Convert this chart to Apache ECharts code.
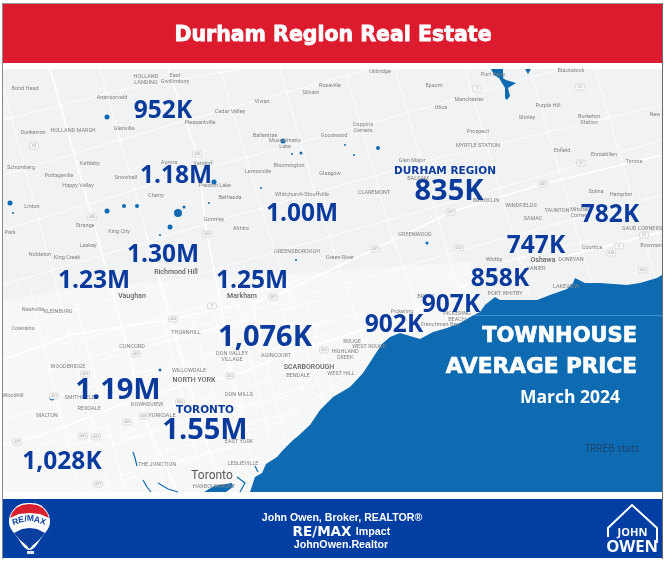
<!DOCTYPE html>
<html>
<head>
<meta charset="utf-8">
<title>Durham Region Real Estate</title>
<script src="https://cdn.jsdelivr.net/npm/echarts@6/dist/echarts.min.js"></script>
<style>
html, body { margin: 0; padding: 0; background: #fff; }
#chart { width: 666px; height: 562px; }
</style>
</head>
<body>
<div id="chart"></div>
<script>
// average townhouse price per area, placed on the map
var priceLabels = ['952K', '1.18M', '1.00M', '1.30M', '1.23M', '1.25M', '1,076K', '1.19M', '1.55M', '1,028K', '835K', '782K', '747K', '858K', '907K', '902K'];
var priceX = [163, 176, 302, 163, 94, 252, 265, 118, 205, 62, 449, 610, 536, 500, 451, 394];
var priceY = [111, 176, 214, 255, 281, 281, 338, 391, 431, 462, 192, 215, 246, 279, 305, 325];
var bigPrices = ['1,076K', '1.19M', '1.55M', '835K'];

var regionLabels = ['TORONTO', 'DURHAM REGION'];
var regionX = [205, 445];
var regionY = [410, 171];

// place names on the base map
var towns = [
    ['Bond Head', 25, 89], ['HOLLAND\nLANDING', 146, 80], ['East\nGwillimbury', 175, 79], ['Anansorveld', 112, 98],
    ['Cedar Valley', 230, 112], ['Vivian', 262, 102], ['Siloam', 311, 93], ['Roseville', 330, 86],
    ['Pleasantville', 200, 123], ['Glenville', 124, 129], ['HOLLAND MARSH', 73, 131], ['Dunkerron', 33, 133],
    ['Ballantrae', 265, 136], ["Musselman's\nLake", 285, 144], ["Coppin's\nCorners", 363, 128], ['Goodwood', 334, 136],
    ['Kettleby', 90, 164], ['Schomberg', 21, 168], ['Pottageville', 59, 176], ['Aurora', 169, 163],
    ['Vandorf', 203, 164], ['Lemonville', 258, 172], ['Bloomington', 289, 166], ['Glasgow', 330, 174],
    ['Snowball', 126, 178], ['Happy Valley', 78, 186], ['Preston Lake', 215, 186], ['Whitchurch-Stouffville', 302, 195],
    ['Cherry', 156, 196], ['Bethesda', 230, 198], ['Linton', 32, 207], ['Gormley', 214, 220],
    ['Strange', 85, 226], ['Ahhiro', 241, 229], ['King City', 119, 232], ['Park', 10, 233],
    ['Laskay', 88, 246], ['GREENSBOROUGH', 297, 252], ['Nobleton', 40, 255], ['King Creek', 67, 258],
    ['Green River', 340, 258], ['Nashville', 33, 310], ['KLEINBURG', 58, 312], ['Colerains', 23, 329],
    ['THORNHILL', 186, 333], ['CONCORD', 132, 347], ['DON VALLEY\nVILLAGE', 232, 357], ['AGINCOURT', 276, 356],
    ['WILLOWDALE', 189, 371], ['WOODBRIDGE', 68, 367], ['BENDALE', 298, 376], ['DON MILLS', 239, 395],
    ['Woodhill', 13, 396], ['SMITHFIELD', 80, 398], ['DOWNSVIEW', 147, 405], ['REXDALE', 89, 409],
    ['MALTON', 47, 416], ['YORKDALE', 162, 416], ['EAST YORK', 239, 442], ['THE JUNCTION', 157, 465],
    ['LESLIEVILLE', 243, 464], ['HARBOURFRONT', 214, 487], ['Uxbridge', 380, 72], ['Port Perry', 493, 75],
    ['Blackstock', 571, 71], ['Epsom', 434, 86], ['Manchester', 469, 100], ['Utica', 441, 108],
    ['Purple Hill', 548, 106], ['Shirley', 527, 118], ['Burketon\nStation', 589, 120], ['New', 655, 115],
    ['Prospect', 478, 132], ['MYRTLE STATION', 478, 146], ['Enfield', 562, 151], ['Enniskillen', 604, 155],
    ['Tyrone', 634, 162], ['Glen Major', 412, 161], ['BALSAM', 418, 179], ['CLAREMONT', 374, 193],
    ['Solina', 596, 192], ['Hampton', 621, 195], ['BROOKLIN', 486, 201], ['WINDFIELDS', 521, 206],
    ['TAUNTON', 557, 211], ['Mitchell\nCorners', 580, 213], ['SAMAC', 533, 219], ['GAUD CORNERS', 642, 229],
    ['GREENWOOD', 415, 235], ['Courtice', 592, 248], ['Bowman', 651, 246], ['Whitby', 494, 260],
    ['DONEVAN', 571, 260], ['VANIER', 536, 269], ['LAKEVIEW', 566, 287], ['PORT WHITBY', 505, 294],
    ['BROCK', 426, 297], ['Pickering', 402, 312], ['PICKERING\nBEACH', 457, 317], ['Frenchman Bay', 440, 325],
    ['ROUGE', 352, 342], ['WEST ROUGE', 369, 347], ['HIGHLAND\nCREEK', 345, 355], ['WEST HILL', 341, 374]
];

// bigger, darker names
var cities = [
    ['Richmond Hill', 176, 272], ['Vaughan', 132, 296], ['Markham', 242, 296], ['NORTH YORK', 194, 380],
    ['SCARBOROUGH', 309, 367], ['Oshawa', 543, 260]
];

var highwayShields = [
    ['400', 197, 154], ['400', 92, 217], ['404', 207, 234], ['404', 173, 319], ['401', 136, 354], ['401', 85, 374],
    ['401', 180, 402], ['401', 230, 376], ['401', 54, 396], ['400', 144, 416], ['400', 127, 422], ['401', 83, 436],
    ['401', 96, 437], ['427', 17, 442], ['427', 98, 484], ['407', 273, 297], ['7', 212, 306], ['401', 324, 350],
    ['7', 477, 89], ['57', 580, 87], ['57', 581, 163], ['407', 543, 184], ['407', 451, 212], ['412', 459, 248],
    ['407', 375, 249], ['418', 611, 253], ['2', 619, 246], ['401', 643, 270], ['57', 644, 235], ['33', 34, 146]
];

// Lake Ontario shoreline, west to east, then round the map corner
var lakeShore = [
    [250, 492], [255, 477], [262, 473], [266, 464], [277, 457], [283, 450], [293, 440], [297, 437], [310, 425],
    [320, 410], [333, 397], [350, 387], [363, 373], [376, 353], [382, 344], [390, 337], [400, 333], [410, 336],
    [420, 339], [433, 332], [447, 328], [460, 323], [472, 316], [480, 312], [485, 305], [495, 297], [500, 300],
    [512, 300], [537, 300], [550, 295], [567, 289], [573, 283], [575, 278], [585, 283], [600, 283], [627, 285],
    [640, 283], [657, 278], [662, 275], [662, 492]
];
var harbour = [[204, 492], [214, 486], [232, 483], [233, 487], [226, 492]];
var scugog = [[491, 69], [503, 69], [503, 78], [506, 80], [516, 83], [508, 88], [510, 96], [507, 100], [505, 98], [505, 88], [499, 78], [494, 75]];
var scugogEast = [[525, 69], [531, 69], [528, 74]];
var urbanArea = [[3, 300], [100, 285], [350, 270], [470, 262], [480, 312], [333, 397], [250, 492], [3, 492]];

var creeks = [
    [[143, 480], [147, 487], [151, 492]], [[158, 483], [168, 489], [178, 492]], [[133, 452], [135, 458], [137, 466]],
    [[255, 466], [258, 472]], [[237, 477], [245, 483], [240, 492]]
];

// white streets, drawn over the land
var majorRoads = [
    [[3, 445], [40, 436], [120, 405], [185, 385], [232, 376], [300, 350], [400, 318], [480, 278], [590, 250], [662, 232]],
    [[3, 360], [70, 335], [173, 319], [273, 297], [375, 249], [451, 212], [543, 184], [662, 155]],
    [[50, 69], [92, 217], [127, 345], [144, 416], [177, 492]],
    [[168, 69], [197, 154], [207, 234], [220, 300], [232, 376], [250, 440]]
];
var minorRoads = [
    [[3, 120], [120, 90], [240, 69]], [[3, 175], [170, 125], [330, 80], [370, 69]], [[3, 230], [200, 170], [400, 115], [560, 69]],
    [[3, 285], [220, 220], [430, 160], [662, 105]], [[3, 330], [240, 262], [460, 200], [662, 140]], [[40, 372], [270, 305], [480, 245], [662, 195]],
    [[3, 420], [180, 365], [320, 325], [400, 298]], [[3, 480], [190, 420], [330, 380]], [[90, 492], [260, 435], [350, 375]],
    [[100, 69], [140, 210], [200, 420], [222, 492]], [[4, 90], [60, 300], [110, 492]], [[145, 230], [190, 390], [215, 470]],
    [[220, 69], [262, 210], [310, 360], [325, 405]], [[280, 69], [320, 210], [365, 345]], [[345, 69], [390, 230], [425, 330]],
    [[395, 69], [450, 260], [470, 315]], [[465, 69], [510, 225], [530, 298]], [[530, 69], [575, 225], [592, 284]],
    [[595, 69], [640, 225], [655, 278]], [[30, 290], [65, 430], [80, 492]], [[120, 320], [160, 470], [166, 492]],
    [[158, 300], [200, 470]], [[190, 310], [228, 450]], [[252, 300], [285, 440]], [[280, 300], [305, 400]],
    [[100, 360], [250, 320]], [[120, 440], [290, 395]], [[130, 460], [270, 425]], [[150, 345], [320, 300]],
    [[190, 440], [300, 410]], [[270, 350], [340, 330]], [[430, 285], [505, 262], [590, 240]],
    [[75, 300], [125, 490]], [[210, 300], [255, 470]], [[235, 295], [270, 440]], [[305, 300], [335, 395]],
    [[60, 345], [300, 280]], [[60, 395], [330, 320]], [[40, 445], [270, 380]], [[110, 478], [255, 442]], [[20, 460], [150, 425]]
];

// small inland ponds
var pondX = [107, 178, 124, 137, 107, 184, 170, 214, 283, 301, 10, 13, 160, 209, 296, 354, 378, 427, 160, 52, 292, 261, 345];
var pondY = [117, 213, 206, 206, 211, 207, 227, 182, 141, 153, 203, 213, 235, 203, 260, 155, 148, 243, 370, 398, 154, 188, 145];
var pondSize = [5, 8, 4, 4, 5, 3, 5, 5, 5, 3, 5, 2, 2, 2, 2, 2, 4, 3, 3, 5, 2, 2, 2];

var fontPrice = '"Open Sans", sans-serif';
var ink = '#0a3b9c';
var water = '#0e6bb1';
var land = '#f1f2f3';

function nameSeries(list, fontSize, color, weight) {
    return {
        type: 'scatter',
        symbolSize: 0,
        silent: true,
        z: 4,
        itemStyle: { opacity: 1 },
        data: list.map(function (t) { return { value: [t[1], t[2]], name: t[0] }; }),
        label: {
            show: true,
            position: 'inside',
            formatter: '{b}',
            fontFamily: 'Roboto, sans-serif',
            fontSize: fontSize,
            fontWeight: weight || 'normal',
            lineHeight: fontSize + 0.5,
            color: color
        }
    };
}

function polySeries(polys, fill, z) {
    return {
        type: 'custom',
        silent: true,
        z: z,
        clip: true,
        data: polys.map(function (p, i) { return [i]; }),
        encode: { x: 0, y: 0 },
        renderItem: function (params, api) {
            return {
                type: 'polygon',
                shape: { points: polys[params.dataIndex].map(function (pt) { return api.coord(pt); }) },
                style: { fill: fill, stroke: null }
            };
        }
    };
}

function lineSeries(list, width, color, z) {
    return {
        type: 'custom',
        silent: true,
        z: z,
        clip: true,
        data: list.map(function (p, i) { return [i]; }),
        encode: { x: 0, y: 0 },
        renderItem: function (params, api) {
            return {
                type: 'polyline',
                shape: { points: list[params.dataIndex].map(function (pt) { return api.coord(pt); }) },
                style: { stroke: color, lineWidth: width, fill: null }
            };
        }
    };
}

var chart = echarts.init(document.getElementById('chart'), null, { renderer: 'canvas' });

var balloonLetters = [
    ['R', 15.5, 522, 0.3], ['E', 21, 520, 0.18], ['/', 25.5, 519, 0.06],
    ['M', 30.5, 518.5, -0.04], ['A', 37, 520, -0.2], ['X', 43, 522, -0.32]
];

var option = {
    animation: false,
    backgroundColor: '#ffffff',
    title: {
        text: 'Durham Region Real Estate',
        left: 'center',
        top: 20,
        textStyle: {
            fontFamily: '"DejaVu Sans", sans-serif', fontWeight: 'bold', fontSize: 20.5, color: '#ffffff',
            textBorderColor: '#ffffff', textBorderWidth: 0.8
        }
    },
    grid: { left: 0, right: 0, top: 0, bottom: 0 },
    xAxis: { type: 'value', min: 0, max: 666, show: false },
    yAxis: { type: 'value', min: 0, max: 562, inverse: true, show: false },
    series: [
        polySeries([urbanArea], '#f7f7f8', 1),
        lineSeries(minorRoads, 1, 'rgba(255,255,255,0.85)', 2),
        lineSeries(majorRoads, 1.6, '#ffffff', 2),
        polySeries([lakeShore, harbour, scugog, scugogEast], water, 3),
        lineSeries(creeks, 1.2, water, 3),
        {
            type: 'scatter',
            silent: true,
            z: 3,
            symbol: 'circle',
            symbolSize: function (v) { return v[2]; },
            data: pondX.map(function (x, i) { return [x, pondY[i], pondSize[i]]; }),
            itemStyle: { color: water, opacity: 1 }
        },
        {
            type: 'scatter',
            silent: true,
            z: 4,
            symbol: 'roundRect',
            symbolSize: [9, 6],
            data: highwayShields.map(function (s) { return { value: [s[1], s[2]], name: s[0] }; }),
            itemStyle: { color: '#f8f8f8', borderColor: '#c8c8c8', borderWidth: 0.6, opacity: 1 },
            label: { show: true, position: 'inside', formatter: '{b}', fontSize: 4, color: '#a4a4a4' }
        },
        nameSeries(towns, 5.5, '#808285'),
        nameSeries(cities, 7, '#636568', 500),
        {
            type: 'scatter',
            symbolSize: 0,
            silent: true,
            z: 4,
            itemStyle: { opacity: 1 },
            data: [{ value: [212, 476], name: 'Toronto' }],
            label: { show: true, position: 'inside', formatter: '{b}', fontFamily: 'Roboto, sans-serif', fontSize: 12, color: '#55575a' }
        },
        {
            type: 'scatter',
            symbolSize: 0,
            silent: true,
            z: 6,
            itemStyle: { opacity: 1 },
            data: priceLabels.map(function (p, i) { return { value: [priceX[i], priceY[i]], name: p }; }),
            label: {
                show: true,
                position: 'inside',
                formatter: '{b}',
                fontFamily: fontPrice,
                fontWeight: 'bold',
                fontSize: 24.5,
                color: ink
            },
            labelLayout: function (params) {
                return { fontSize: bigPrices.indexOf(priceLabels[params.dataIndex]) >= 0 ? 29 : 24.5 };
            }
        },
        {
            type: 'scatter',
            symbolSize: 0,
            silent: true,
            z: 6,
            itemStyle: { opacity: 1 },
            data: regionLabels.map(function (r, i) { return { value: [regionX[i], regionY[i]], name: r }; }),
            label: {
                show: true,
                position: 'inside',
                formatter: '{b}',
                fontFamily: '"DejaVu Sans", sans-serif',
                fontWeight: 'bold',
                fontSize: 10.5,
                color: ink
            }
        }
    ],
    graphic: [
        // page frame, header, map ground, footer
        { type: 'rect', z: 0, shape: { x: 3, y: 4, width: 659, height: 59 }, style: { fill: '#dc1c2e' } },
        { type: 'rect', z: 0, shape: { x: 3, y: 69, width: 659, height: 423 }, style: { fill: land } },
        { type: 'rect', z: 0, shape: { x: 3, y: 499, width: 659, height: 59 }, style: { fill: '#033ea3' } },
        { type: 'rect', z: 0, shape: { x: 2, y: 3, width: 660.5, height: 1 }, style: { fill: '#9a9a9a' } },
        { type: 'rect', z: 0, shape: { x: 2, y: 3, width: 1, height: 556 }, style: { fill: '#8a8a8a' } },
        { type: 'rect', z: 0, shape: { x: 662, y: 3, width: 1, height: 556 }, style: { fill: '#6a6a6a' } },
        // panel text over the lake
        { type: 'rect', z: 5, shape: { x: 474, y: 315, width: 188, height: 1 }, style: { fill: '#3f8fd2' } },
        { type: 'text', z: 20, style: { text: 'TOWNHOUSE', x: 637, y: 337, align: 'right', verticalAlign: 'middle', font: 'bold 21px "DejaVu Sans"', fill: '#fff', stroke: '#fff', lineWidth: 0.7 } },
        { type: 'text', z: 20, style: { text: 'AVERAGE PRICE', x: 637, y: 367, align: 'right', verticalAlign: 'middle', font: 'bold 21.6px "DejaVu Sans"', fill: '#fff', stroke: '#fff', lineWidth: 0.7 } },
        { type: 'text', z: 20, style: { text: 'March 2024', x: 570, y: 398, align: 'center', verticalAlign: 'middle', font: 'bold 17.5px "Open Sans"', fill: '#fff' } },
        { type: 'text', z: 20, style: { text: 'TRREB stats', x: 612, y: 449, align: 'center', verticalAlign: 'middle', font: '10px "Open Sans"', fill: '#1d3f66' } },
        // footer text
        { type: 'text', z: 20, style: { text: 'John Owen, Broker, REALTOR®', x: 342, y: 518, align: 'center', verticalAlign: 'middle', font: 'bold 10.6px "Liberation Sans"', fill: '#fff' } },
        { type: 'text', z: 20, style: { text: 'RE/MAX', x: 322, y: 532, align: 'center', verticalAlign: 'middle', font: 'bold 13.5px "DejaVu Sans"', fill: '#fff' } },
        { type: 'text', z: 20, style: { text: 'Impact', x: 373, y: 532, align: 'center', verticalAlign: 'middle', font: 'bold 10.7px "Liberation Sans"', fill: '#fff' } },
        { type: 'text', z: 20, style: { text: 'JohnOwen.Realtor', x: 341, y: 545, align: 'center', verticalAlign: 'middle', font: 'bold 10.7px "Liberation Sans"', fill: '#fff' } },
        // balloon
        { type: 'polygon', z: 20, shape: { smooth: 0.4, points: [[29.5, 503], [43, 507], [50, 522], [42, 537], [29.5, 550], [17, 537], [9, 522], [16, 507]] }, style: { fill: '#ffffff' } },
        { type: 'polygon', z: 21, shape: { points: [[29.5, 504], [37, 505], [43, 508], [47, 513], [49, 518], [40, 514], [29.5, 513], [19, 514], [10, 518], [12, 513], [16, 508], [22, 505]] }, style: { fill: '#d8202f' } },
        { type: 'polygon', z: 21, shape: { points: [[14, 533], [22, 529], [29.5, 528], [37, 529], [45, 533], [39, 540], [33, 545], [29.5, 549], [26, 545], [20, 540]] }, style: { fill: '#0a3fa0' } },
        { type: 'rect', z: 21, shape: { x: 27, y: 551, width: 7, height: 3 }, style: { fill: '#dfe6f5' } }
    ].concat(balloonLetters.map(function (l) {
        return {
            type: 'text', z: 22, x: l[1], y: l[2], rotation: l[3],
            style: { text: l[0], align: 'center', verticalAlign: 'middle', font: 'bold 8.5px "Liberation Sans"', fill: '#0a3fa0' }
        };
    })).concat([
        // john owen house mark
        { type: 'polyline', z: 20, shape: { points: [[608, 537], [608, 528], [632, 505], [657, 528], [657, 543]] }, style: { stroke: '#fff', lineWidth: 2, fill: null } },
        { type: 'text', z: 20, style: { text: 'JOHN', x: 632.5, y: 533, align: 'center', verticalAlign: 'middle', font: 'bold 11px "Open Sans"', fill: '#fff' } },
        { type: 'text', z: 20, style: { text: 'OWEN', x: 632, y: 547, align: 'center', verticalAlign: 'middle', font: 'bold 16.5px "Open Sans"', fill: '#fff' } }
    ])
};

chart.setOption(option);
</script>
</body>
</html>
